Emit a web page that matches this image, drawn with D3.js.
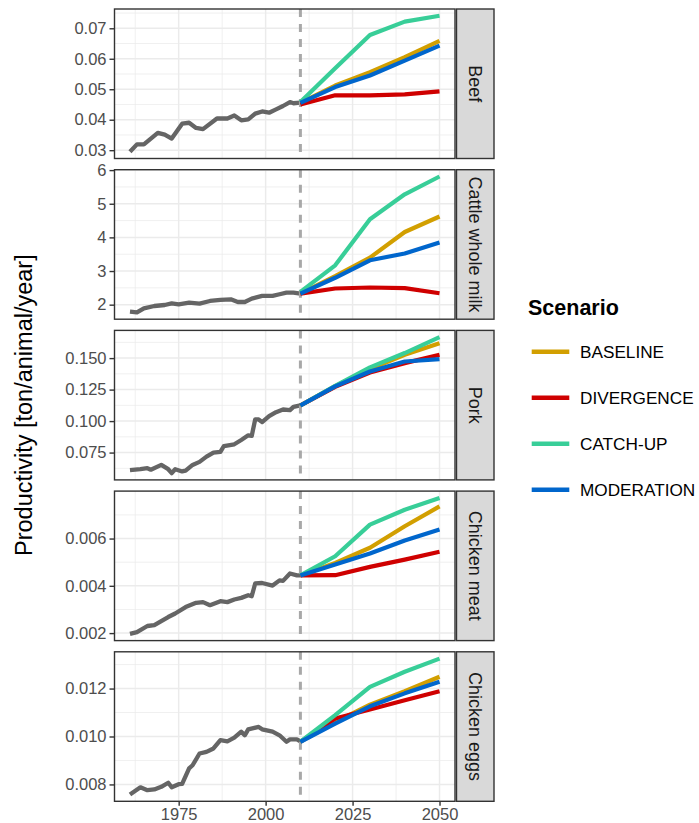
<!DOCTYPE html>
<html>
<head>
<meta charset="utf-8">
<script src="https://cdn.jsdelivr.net/npm/d3@7"></script>
<style>
  body { margin: 0; background: #fff; }
  svg { display: block; }
  text { font-family: "Liberation Sans", Arial, sans-serif; }
</style>
</head>
<body>
<svg id="chart" width="699" height="823"></svg>
<script>
// --- data ---
const products = ["Beef", "Cattle whole milk", "Pork", "Chicken meat", "Chicken eggs"];
const scenarios = ["BASELINE", "DIVERGENCE", "CATCH-UP", "MODERATION"];
const scenarioColors = ["#D29F00", "#CF0000", "#38CE98", "#0066CC"];
const projYears = [2010, 2020, 2030, 2040, 2050];
const xTicks = [1975, 2000, 2025, 2050];

// y ticks and label format per panel
const yTicks = [
  [0.03, 0.04, 0.05, 0.06, 0.07],
  [2, 3, 4, 5, 6],
  [0.075, 0.100, 0.125, 0.150],
  [0.002, 0.004, 0.006],
  [0.008, 0.010, 0.012]
];
const yFormats = [".2f", "d", ".3f", ".3f", ".3f"];

// historical series [year, value]
const histBeef = [[1961,0.0295],[1963,0.0319],[1965,0.0319],[1969,0.0357],[1971,0.0351],[1973,0.0338],
  [1976,0.0387],[1978,0.0390],[1980,0.0373],[1982,0.0369],[1986,0.0404],[1989,0.0404],[1991,0.0414],
  [1993,0.0398],[1995,0.0401],[1997,0.0420],[1999,0.0427],[2001,0.0423],[2003,0.0434],[2005,0.0445],
  [2007,0.0458],[2008,0.0454],[2010,0.0456]];
const histMilk = [[1961,1.79],[1963,1.77],[1965,1.89],[1968,1.96],[1971,1.99],[1973,2.04],[1975,2.01],
  [1978,2.06],[1981,2.03],[1984,2.11],[1987,2.14],[1990,2.16],[1992,2.08],[1994,2.08],[1996,2.18],
  [1999,2.26],[2002,2.26],[2004,2.31],[2006,2.36],[2008,2.36],[2010,2.33]];
const histPork = [[1961,0.0610],[1964,0.0618],[1966,0.0626],[1967,0.0614],[1970,0.0652],[1972,0.0618],
  [1973,0.0587],[1974,0.0618],[1976,0.0600],[1977,0.0606],[1979,0.0652],[1981,0.0676],[1983,0.0718],
  [1985,0.0750],[1987,0.0755],[1988,0.0802],[1991,0.0816],[1993,0.0850],[1995,0.0887],[1996,0.0882],
  [1997,0.1013],[1998,0.1013],[1999,0.0992],[2001,0.1039],[2003,0.1071],[2005,0.1092],[2007,0.1087],
  [2008,0.1113],[2010,0.1124]];
const histChicken = [[1961,0.00197],[1963,0.00204],[1966,0.00230],[1968,0.00234],[1970,0.00251],
  [1972,0.00268],[1974,0.00283],[1977,0.00310],[1980,0.00328],[1982,0.00331],[1984,0.00318],
  [1987,0.00335],[1989,0.00331],[1991,0.00342],[1993,0.00349],[1995,0.00360],[1996,0.00356],
  [1997,0.00410],[1999,0.00412],[2002,0.00401],[2004,0.00423],[2005,0.00421],[2007,0.00452],
  [2009,0.00444],[2010,0.00444]];
const histEggs = [[1961,0.00758],[1964,0.00788],[1966,0.00776],[1968,0.00779],[1970,0.00790],
  [1972,0.00807],[1973,0.00788],[1975,0.00801],[1976,0.00802],[1978,0.00867],[1979,0.00880],
  [1981,0.00929],[1983,0.00936],[1985,0.00950],[1987,0.00985],[1989,0.00980],[1991,0.00995],
  [1993,0.01020],[1994,0.01005],[1995,0.01030],[1998,0.01040],[1999,0.01030],[2002,0.01020],
  [2004,0.01005],[2006,0.00978],[2007,0.00988],[2009,0.00988],[2010,0.00980]];

// projections: one row per scenario (same order as scenarios), values at projYears
const projBeef = [
  [0.0455, 0.0512, 0.0556, 0.0605, 0.0659],
  [0.0450, 0.0480, 0.0480, 0.0483, 0.0493],
  [0.0458, 0.0569, 0.0678, 0.0722, 0.0741],
  [0.0455, 0.0507, 0.0545, 0.0594, 0.0643]
];
const projMilk = [
  [2.33, 2.85, 3.40, 4.16, 4.62],
  [2.33, 2.48, 2.51, 2.49, 2.34],
  [2.38, 3.17, 4.54, 5.28, 5.81],
  [2.33, 2.80, 3.32, 3.52, 3.85]
];
const projPork = [
  [0.1124, 0.1278, 0.1413, 0.1527, 0.1618],
  [0.1124, 0.1272, 0.1386, 0.1460, 0.1526],
  [0.1124, 0.1280, 0.1426, 0.1540, 0.1666],
  [0.1124, 0.1276, 0.1394, 0.1473, 0.1492]
];
const projChicken = [
  [0.00444, 0.00497, 0.00561, 0.00652, 0.00736],
  [0.00444, 0.00445, 0.00480, 0.00511, 0.00544],
  [0.00444, 0.00525, 0.00659, 0.00722, 0.00772],
  [0.00444, 0.00490, 0.00537, 0.00592, 0.00638]
];
const projEggs = [
  [0.00978, 0.01060, 0.01133, 0.01189, 0.01249],
  [0.00978, 0.01075, 0.01113, 0.01151, 0.01189],
  [0.00978, 0.01089, 0.01207, 0.01270, 0.01325],
  [0.00978, 0.01054, 0.01126, 0.01180, 0.01228]
];

const histories = [histBeef, histMilk, histPork, histChicken, histEggs];
const projections = [projBeef, projMilk, projPork, projChicken, projEggs];
const baseYear = 2010;

// --- layout ---
const panelL = 114.5, panelR = 455;
const panelTop0 = 9, panelH = 149.5, panelGap = 11.2;
const stripL = 456.5, stripW = 37.5;
const gridCol = "#EBEBEB", frameCol = "#333333";

const svg = d3.select("#chart");

// ggplot style 5% expansion
function padExtent(vals) {
  const [a, b] = d3.extent(vals);
  const p = (b - a) * 0.05;
  return [a - p, b + p];
}
// minor breaks: midpoints, extended one step each side
function minorBreaks(ticks, domain) {
  const step = ticks[1] - ticks[0];
  const out = [];
  for (let i = -1; i < ticks.length; i++) out.push(ticks[0] + (i + 0.5) * step);
  return out.filter(v => v > domain[0] && v < domain[1]);
}

const allYears = histories.flatMap(h => h.map(d => d[0])).concat(projYears);
const x = d3.scaleLinear().domain(padExtent(allYears)).range([panelL, panelR]);
const xMinor = minorBreaks(xTicks, x.domain());

const line = d3.line().x(d => x(d[0]));

products.forEach((name, i) => {
  const top = panelTop0 + i * (panelH + panelGap);
  const g = svg.append("g").attr("transform", `translate(0,${top})`);
  const hist = histories[i], proj = projections[i];
  const vals = hist.map(d => d[1]).concat(proj.flat());
  const y = d3.scaleLinear().domain(padExtent(vals)).range([panelH, 0]);
  line.y(d => y(d[1]));

  g.append("rect").attr("x", panelL).attr("y", 0)
    .attr("width", panelR - panelL).attr("height", panelH).attr("fill", "#fff");

  // grid
  const yMinor = minorBreaks(yTicks[i], y.domain());
  g.selectAll(".ymin").data(yMinor).join("line")
    .attr("x1", panelL).attr("x2", panelR).attr("y1", d => y(d)).attr("y2", d => y(d))
    .attr("stroke", gridCol).attr("stroke-width", 0.75);
  g.selectAll(".xmin").data(xMinor).join("line")
    .attr("x1", d => x(d)).attr("x2", d => x(d)).attr("y1", 0).attr("y2", panelH)
    .attr("stroke", gridCol).attr("stroke-width", 0.75);
  g.selectAll(".ymaj").data(yTicks[i]).join("line")
    .attr("x1", panelL).attr("x2", panelR).attr("y1", d => y(d)).attr("y2", d => y(d))
    .attr("stroke", gridCol).attr("stroke-width", 1.5);
  g.selectAll(".xmaj").data(xTicks).join("line")
    .attr("x1", d => x(d)).attr("x2", d => x(d)).attr("y1", 0).attr("y2", panelH)
    .attr("stroke", gridCol).attr("stroke-width", 1.5);

  // historical
  g.append("path").attr("d", line(hist))
    .attr("fill", "none").attr("stroke", "#656565").attr("stroke-width", 4.3)
    .attr("stroke-linejoin", "round");

  // base year marker
  g.append("line").attr("x1", x(baseYear)).attr("x2", x(baseYear))
    .attr("y1", 0).attr("y2", panelH)
    .attr("stroke", "#A8A8A8").attr("stroke-width", 3).attr("stroke-dasharray", "8,7");

  // scenarios
  proj.forEach((row, s) => {
    g.append("path").attr("d", line(row.map((v, k) => [projYears[k], v])))
      .attr("fill", "none").attr("stroke", scenarioColors[s]).attr("stroke-width", 4.2)
      .attr("stroke-linejoin", "round");
  });

  // border
  g.append("rect").attr("x", panelL).attr("y", 0)
    .attr("width", panelR - panelL).attr("height", panelH)
    .attr("fill", "none").attr("stroke", frameCol).attr("stroke-width", 1.4);

  // y axis
  const ay = g.append("g").attr("transform", `translate(${panelL},0)`)
    .call(d3.axisLeft(y).tickValues(yTicks[i]).tickFormat(d3.format(yFormats[i]))
      .tickSize(5).tickPadding(3));
  ay.select(".domain").remove();
  ay.selectAll(".tick line").attr("stroke", frameCol).attr("stroke-width", 1.4);
  ay.selectAll(".tick text").attr("fill", "#4D4D4D").attr("font-size", 16.5)
    .attr("font-family", "Liberation Sans, Arial, sans-serif");

  // strip
  g.append("rect").attr("x", stripL).attr("y", 0).attr("width", stripW).attr("height", panelH)
    .attr("fill", "#D9D9D9").attr("stroke", frameCol).attr("stroke-width", 1.4);
  g.append("text")
    .attr("transform", `translate(${stripL + stripW / 2},${panelH / 2}) rotate(90)`)
    .attr("text-anchor", "middle").attr("dy", "0.35em")
    .attr("font-size", 18).attr("fill", "#1A1A1A").text(name);

  // x axis under the last panel
  if (i === products.length - 1) {
    const ax = g.append("g").attr("transform", `translate(0,${panelH})`)
      .call(d3.axisBottom(x).tickValues(xTicks).tickFormat(d3.format("d"))
        .tickSize(4.5).tickPadding(2));
    ax.select(".domain").remove();
    ax.selectAll(".tick line").attr("stroke", frameCol).attr("stroke-width", 1.4);
    ax.selectAll(".tick text").attr("fill", "#4D4D4D").attr("font-size", 16.5)
      .attr("font-family", "Liberation Sans, Arial, sans-serif");
  }
});

// y title
const midY = panelTop0 + (products.length * (panelH + panelGap) - panelGap) / 2;
svg.append("text")
  .attr("transform", `translate(32,${midY}) rotate(-90)`)
  .attr("text-anchor", "middle").attr("font-size", 23.5).attr("fill", "#000")
  .text("Productivity [ton/animal/year]");

// legend
const legend = svg.append("g");
legend.append("text").attr("x", 528).attr("y", 315)
  .attr("font-size", 21.5).attr("font-weight", "bold").attr("fill", "#000").text("Scenario");
const ly = d3.scalePoint().domain(scenarios).range([351.8, 489.8]);
scenarios.forEach((s, k) => {
  legend.append("line").attr("x1", 531.7).attr("x2", 569.3)
    .attr("y1", ly(s)).attr("y2", ly(s))
    .attr("stroke", scenarioColors[k]).attr("stroke-width", 4.5);
  legend.append("text").attr("x", 580).attr("y", ly(s)).attr("dy", "0.36em")
    .attr("font-size", 17.2).attr("fill", "#000").text(s);
});
</script>
</body>
</html>
